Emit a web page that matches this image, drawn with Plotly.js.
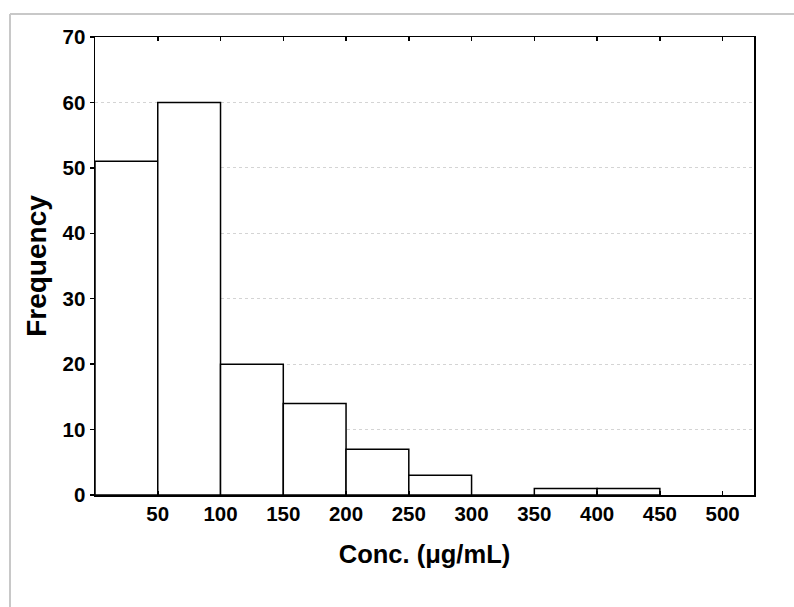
<!DOCTYPE html>
<html>
<head>
<meta charset="utf-8">
<script src="https://cdn.plot.ly/plotly-3.0.1.min.js"></script>
<style>html,body{margin:0;padding:0;background:#fff;}#chart{width:794px;height:607px;}</style>
</head>
<body>
<div id="chart"></div>
<script>
// Histogram bins (lower edges, µg/mL) and counts
var binStart = [0, 50, 100, 150, 200, 250, 300, 350, 400];
var binWidth = 50;
var counts = [51, 60, 20, 14, 7, 3, 0, 1, 1];
var xTicks = [50, 100, 150, 200, 250, 300, 350, 400, 450, 500];
var yTicks = [0, 10, 20, 30, 40, 50, 60, 70];

var FONT = 'Arial, "Liberation Sans", sans-serif';

var trace = {
  type: 'bar',
  x: binStart,
  y: counts,
  width: binStart.map(function(){ return binWidth; }),
  offset: 0,
  marker: {color: '#ffffff', line: {color: '#000000', width: 1.5}},
  hoverinfo: 'x+y'
};

var layout = {
  width: 794, height: 607,
  margin: {l: 95, r: 40, t: 37, b: 112, pad: 0},
  paper_bgcolor: '#ffffff', plot_bgcolor: '#ffffff',
  showlegend: false,
  bargap: 0,
  xaxis: {
    range: [0, 525], tickvals: xTicks, ticktext: xTicks.map(String),
    ticks: 'inside', ticklen: 4, tickwidth: 1.5, tickcolor: '#000',
    showline: true, linecolor: '#000', linewidth: 1.5, mirror: 'ticks',
    showgrid: false, zeroline: false,
    tickfont: {family: FONT, size: 20.5, weight: 'bold', color: '#000'},
    title: {text: 'Conc. (μg/mL)', standoff: 21, font: {family: FONT, size: 25.5, weight: 'bold', color: '#000'}},
    automargin: false
  },
  yaxis: {
    range: [0, 70], tickvals: yTicks,
    ticks: 'outside', ticklen: 4, tickwidth: 1.5, tickcolor: '#000',
    showline: true, linecolor: '#000', linewidth: 1.5, mirror: true,
    showgrid: true, gridcolor: '#d4d4d4', gridwidth: 1, griddash: 'dot',
    zeroline: false,
    tickfont: {family: FONT, size: 20.5, weight: 'bold', color: '#000'},
    title: {text: 'Frequency', standoff: 8, font: {family: FONT, size: 28, weight: 'bold', color: '#000'}},
    automargin: false
  },
  yaxis2: {
    overlaying: 'y', side: 'right', anchor: 'x', range: [0, 70], tickvals: yTicks,
    ticks: 'inside', ticklen: 4, tickwidth: 1.5, tickcolor: '#000',
    showticklabels: false, showline: false, showgrid: false, zeroline: false
  },
  shapes: [
    {type: 'line', xref: 'paper', yref: 'paper', x0: -0.129, x1: -0.129, y0: 1.050, y1: -0.25, line: {color: '#c8c8c8', width: 2}},
    {type: 'line', xref: 'paper', yref: 'paper', x0: -0.129, x1: 1.1, y0: 1.050, y1: 1.050, line: {color: '#c8c8c8', width: 2}}
  ]
};

Plotly.newPlot('chart', [trace], layout, {displayModeBar: false, staticPlot: true});
</script>
</body>
</html>
